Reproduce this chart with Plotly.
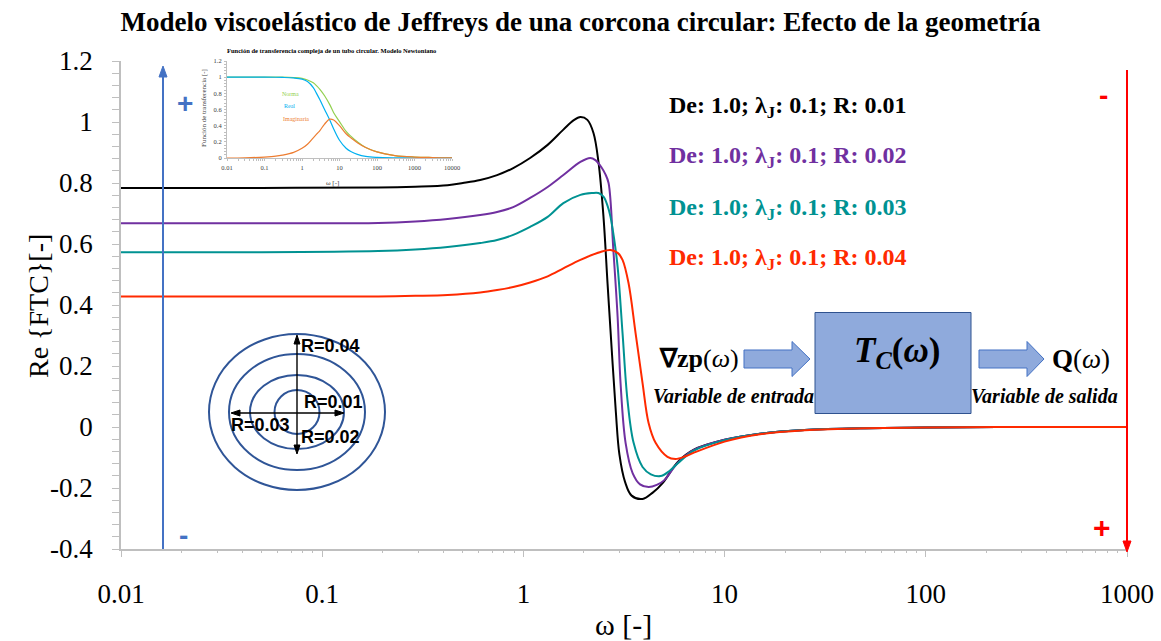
import plotly.graph_objects as go

# ---------------- data ----------------
omega_r01 = [0.01, 0.05, 0.19, 0.29, 0.42, 0.5, 0.61, 0.74, 0.89, 1.08, 1.32, 1.58, 1.78, 1.92, 2.08, 2.23, 2.36, 2.5, 2.62, 2.75, 2.88, 3.0, 3.2, 3.45, 3.91, 4.38, 4.92, 5.84, 7.0, 10, 15, 25, 50, 100, 300, 1000]
re_r01 = [0.784, 0.784, 0.785, 0.788, 0.793, 0.8, 0.81, 0.826, 0.849, 0.882, 0.925, 0.975, 1.006, 1.016, 1.007, 0.964, 0.87, 0.69, 0.47, 0.25, 0.05, -0.09, -0.18, -0.225, -0.236, -0.216, -0.184, -0.115, -0.075, -0.042, -0.022, -0.01, -0.004, -0.002, 0.0, 0.0]

omega_r02 = [0.01, 0.05, 0.19, 0.29, 0.42, 0.61, 0.74, 0.89, 1.08, 1.32, 1.58, 1.92, 2.15, 2.28, 2.45, 2.55, 2.65, 2.8, 2.94, 3.04, 3.22, 3.49, 3.8, 4.19, 4.6, 5.0, 5.84, 7.0, 10, 15, 25, 50, 100, 300, 1000]
re_r02 = [0.668, 0.668, 0.669, 0.674, 0.682, 0.695, 0.705, 0.721, 0.751, 0.787, 0.826, 0.869, 0.882, 0.875, 0.85, 0.83, 0.8, 0.58, 0.36, 0.144, -0.052, -0.151, -0.188, -0.197, -0.19, -0.175, -0.118, -0.076, -0.042, -0.022, -0.01, -0.004, -0.002, 0.0, 0.0]

omega_r03 = [0.01, 0.05, 0.19, 0.29, 0.42, 0.61, 0.74, 0.89, 1.08, 1.32, 1.58, 1.92, 2.2, 2.36, 2.5, 2.62, 2.71, 2.82, 2.94, 3.11, 3.29, 3.53, 3.91, 4.3, 4.8, 5.3, 5.84, 7.0, 10, 15, 25, 50, 100, 300, 1000]
re_r03 = [0.573, 0.573, 0.577, 0.582, 0.59, 0.603, 0.613, 0.63, 0.656, 0.689, 0.734, 0.761, 0.767, 0.767, 0.755, 0.725, 0.689, 0.62, 0.525, 0.308, 0.089, -0.052, -0.131, -0.155, -0.161, -0.145, -0.12, -0.078, -0.043, -0.022, -0.01, -0.004, -0.002, 0.0, 0.0]

omega_r04 = [0.01, 0.05, 0.19, 0.29, 0.42, 0.61, 0.74, 0.89, 1.08, 1.32, 1.58, 1.92, 2.42, 2.71, 2.95, 3.11, 3.33, 3.61, 3.91, 4.19, 4.54, 5.2, 5.7, 6.4, 7.0, 10, 15, 25, 50, 100, 300, 1000]
re_r04 = [0.428, 0.428, 0.428, 0.43, 0.433, 0.441, 0.449, 0.459, 0.474, 0.494, 0.52, 0.548, 0.574, 0.58, 0.57, 0.548, 0.472, 0.308, 0.144, 0.013, -0.052, -0.098, -0.105, -0.096, -0.085, -0.048, -0.024, -0.011, -0.004, -0.002, 0.0, 0.0]

series_labels = ["De: 1.0; λ<sub>J</sub>: 0.1; R: 0.01",
                 "De: 1.0; λ<sub>J</sub>: 0.1; R: 0.02",
                 "De: 1.0; λ<sub>J</sub>: 0.1; R: 0.03",
                 "De: 1.0; λ<sub>J</sub>: 0.1; R: 0.04"]
series_colors = ["#000000", "#7030A0", "#009292", "#FF2A00"]

x_tickvals = [0.01, 0.1, 1, 10, 100, 1000]
x_ticktext = ["0.01", "0.1", "1", "10", "100", "1000"]
y_tickvals = [-0.4, -0.2, 0, 0.2, 0.4, 0.6, 0.8, 1.0, 1.2]
y_ticktext = ["-0.4", "-0.2", "0", "0.2", "0.4", "0.6", "0.8", "1", "1.2"]

# inset (Newtonian tube)
inset_omega = [0.01, 0.03, 0.1, 0.2, 0.3, 0.6, 1, 1.4, 2, 2.5, 3, 4, 5.5, 7, 10, 15, 20, 30, 50, 100, 300, 1000, 3000, 10000]
inset_real = [1.0, 1.0, 1.0, 0.999, 0.997, 0.99, 0.975, 0.945, 0.87, 0.79, 0.72, 0.6, 0.47, 0.36, 0.22, 0.12, 0.08, 0.045, 0.02, 0.008, 0.002, 0.0, 0.0, 0.0]
inset_norm = [1.0, 1.0, 1.0, 1.0, 1.0, 0.995, 0.985, 0.965, 0.93, 0.89, 0.85, 0.77, 0.66, 0.56, 0.45, 0.33, 0.27, 0.2, 0.13, 0.075, 0.03, 0.012, 0.006, 0.003]
inset_imag = [0.0, 0.003, 0.012, 0.022, 0.035, 0.07, 0.12, 0.17, 0.25, 0.3, 0.34, 0.42, 0.48, 0.47, 0.4, 0.3, 0.25, 0.19, 0.13, 0.075, 0.03, 0.012, 0.006, 0.003]
inset_x_tickvals = [0.01, 0.1, 1, 10, 100, 1000, 10000]
inset_x_ticktext = ["0.01", "0.1", "1", "10", "100", "1000", "10000"]
inset_y_tickvals = [0, 0.2, 0.4, 0.6, 0.8, 1.0, 1.2]
inset_y_ticktext = ["0", "0.2", "0.4", "0.6", "0.8", "1", "1.2"]

# ---------------- layout helpers ----------------
W, H = 1161, 641
L, R, T, B = 121, 1127, 61, 549
def px(x):
    return (x - L) / (R - L)
def py(y):
    return (B - y) / (B - T)

SERIF = "Liberation Serif"
SANS = "Liberation Sans"
AX = "#BFBFBF"

minor_x = [m * 10 ** e for e in range(-2, 3) for m in range(2, 10)]
minor_x_inset = [m * 10 ** e for e in range(-2, 4) for m in range(2, 10)]

fig = go.Figure()
for om, re, col in zip([omega_r01, omega_r02, omega_r03, omega_r04],
                       [re_r01, re_r02, re_r03, re_r04], series_colors):
    fig.add_trace(go.Scatter(x=om, y=re, mode="lines",
                             line=dict(color=col, width=2, shape="spline", smoothing=1.0),
                             hoverinfo="skip", showlegend=False))

for yy, col in zip([inset_norm, inset_real, inset_imag], ["#92D050", "#00B0F0", "#ED7D31"]):
    fig.add_trace(go.Scatter(x=inset_omega, y=yy, xaxis="x3", yaxis="y3", mode="lines",
                             line=dict(color=col, width=1.2, shape="spline", smoothing=1.0),
                             hoverinfo="skip", showlegend=False))

annotations = []
def txt(x, y, text, size, color="black", family=SERIF, xanchor="center", angle=0):
    annotations.append(dict(x=px(x), y=py(y), xref="paper", yref="paper", text=text,
                            showarrow=False, xanchor=xanchor, yanchor="middle", textangle=angle,
                            font=dict(family=family, size=size, color=color)))

# axis titles
txt(38, 306, "Re {FTC}[-]", 28, angle=-90)
txt(623, 624, "ω [-]", 30)

# legend-like labels
for lab, col, yy in zip(series_labels, series_colors, [107, 157, 209, 259]):
    txt(667, yy, "<b>" + lab + "</b>", 24, color=col, xanchor="left")

# plus / minus marks
txt(185, 103, "<b>+</b>", 28, "#4472C4", SANS)
txt(183, 535, "<b>-</b>", 28, "#4472C4", SANS)
txt(1103, 95, "<b>-</b>", 28, "#FF0000", SANS)
txt(1102, 527, "<b>+</b>", 30, "#FF0000", SANS)

# circle labels
txt(330, 346, "<b>R=0.04</b>", 18, family=SANS)
txt(333, 402, "<b>R=0.01</b>", 18, family=SANS)
txt(260, 425, "<b>R=0.03</b>", 18, family=SANS)
txt(330, 437, "<b>R=0.02</b>", 18, family=SANS)

# block diagram texts
txt(699, 358, "<b>∇zp</b>(<i>ω</i>)", 26)
txt(733, 396, "<b><i>Variable de entrada</i></b>", 20)
txt(897, 352, "<b><i>T</i><sub><i>C</i></sub>(<i>ω</i>)</b>", 35)
txt(1081, 359, "<b>Q</b>(<i>ω</i>)", 27)
txt(1044, 396, "<b><i>Variable de salida</i></b>", 20)

# inset texts
txt(331, 50, "<b>Función de transferencia compleja de un tubo circular. Modelo Newtoniano</b>", 6.5)
txt(204, 108, "Función de transferencia [-]", 7, "#404040", angle=-90)
txt(290, 94, "Norma", 6, "#92D050")
txt(289, 106, "Real", 6, "#00B0F0")
txt(296, 119, "Imaginaria", 6, "#ED7D31")
txt(332, 183, "ω [-]", 7, "#404040")

shapes = []
def seg(x0, y0, x1, y1, color, width):
    shapes.append(dict(type="line", xref="paper", yref="paper",
                       x0=px(x0), y0=py(y0), x1=px(x1), y1=py(y1),
                       line=dict(color=color, width=width)))

def head(pts, color):
    path = "M " + " L ".join(f"{px(a):.5f},{py(b):.5f}" for a, b in pts) + " Z"
    shapes.append(dict(type="path", xref="paper", yref="paper", path=path,
                       fillcolor=color, line=dict(color=color, width=1)))

# concentric circles
for rx, ry in [(88, 78), (68, 58), (47, 37), (22.5, 22)]:
    cx, cy = 297, 412
    shapes.append(dict(type="circle", xref="paper", yref="paper",
                       x0=px(cx - rx), x1=px(cx + rx), y0=py(cy + ry), y1=py(cy - ry),
                       line=dict(color="#2F5597", width=2), layer="below"))

# direction arrows
seg(163, 549, 163, 74, "#4472C4", 2)
head([(159, 77), (163, 66), (167, 77)], "#4472C4")
seg(1127, 70, 1127, 543, "#FF0000", 2)
head([(1123, 541), (1127, 552), (1131, 541)], "#FF0000")

# radius arrows
seg(297, 341, 297, 448, "black", 1.4)
head([(294, 344), (297, 335), (300, 344)], "black")
head([(294, 445), (297, 454), (300, 445)], "black")
seg(237, 413, 338, 413, "black", 1.4)
head([(240, 410), (231, 413), (240, 416)], "black")
head([(335, 410), (344, 413), (335, 416)], "black")

# block box
shapes.append(dict(type="rect", xref="paper", yref="paper",
                   x0=px(815), x1=px(971), y0=py(413.5), y1=py(312.5),
                   fillcolor="#8FAADC", line=dict(color="#2F528F", width=1)))

def block_arrow(x0, x1, xh, ymid, half_shaft, half_head):
    pts = [(x0, ymid - half_shaft), (xh, ymid - half_shaft), (xh, ymid - half_head),
           (x1, ymid), (xh, ymid + half_head), (xh, ymid + half_shaft), (x0, ymid + half_shaft)]
    path = "M " + " L ".join(f"{px(a):.5f},{py(b):.5f}" for a, b in pts) + " Z"
    shapes.append(dict(type="path", xref="paper", yref="paper", path=path,
                       fillcolor="#8FAADC", line=dict(color="#4472C4", width=1)))

block_arrow(744, 810, 792, 359, 9, 17.5)
block_arrow(979, 1044, 1027, 359, 9, 17.5)

tickfont = dict(family=SERIF, size=27, color="black")
fig.update_layout(
    width=W, height=H,
    margin=dict(l=L, r=W - R, t=T, b=H - B, autoexpand=False),
    paper_bgcolor="white", plot_bgcolor="rgba(0,0,0,0)",
    title=dict(text="<b>Modelo viscoelástico de Jeffreys de una corcona circular: Efecto de la geometría</b>",
               x=(121 + 1040) / 2 / W, xref="container", xanchor="center", y=1 - 22 / H, yref="container", yanchor="middle",
               font=dict(family=SERIF, size=27, color="black")),
    xaxis=dict(type="log", range=[-2, 3], showgrid=False, zeroline=False,
               showline=True, linecolor=AX, linewidth=1.5,
               tickvals=x_tickvals, ticktext=x_ticktext, tickfont=tickfont,
               ticks="outside", ticklen=6, tickwidth=1.2, tickcolor=AX, ticklabelstandoff=14,
               minor=dict(tickvals=minor_x, ticks="outside", ticklen=2, tickcolor=AX, tickwidth=1)),
    xaxis2=dict(type="log", range=[-2, 3], overlaying="x", anchor="y", side="bottom",
                showgrid=False, zeroline=False, showline=False, showticklabels=False,
                tickvals=x_tickvals, ticks="inside", ticklen=10, tickwidth=1.2, tickcolor=AX,
                minor=dict(tickvals=minor_x, ticks="inside", ticklen=9, tickcolor=AX, tickwidth=1)),
    yaxis=dict(range=[-0.4, 1.2], showgrid=False, zeroline=False,
               showline=True, linecolor=AX, linewidth=1.5,
               tickvals=y_tickvals, ticktext=y_ticktext, tickfont=tickfont,
               ticks="outside", ticklen=7, tickwidth=1.2, tickcolor=AX, ticklabelstandoff=14,
               minor=dict(dtick=0.04, tick0=0, ticks="outside", ticklen=7, tickcolor=AX, tickwidth=1)),
    yaxis2=dict(range=[-0.4, 1.2], overlaying="y", anchor="x", side="left",
                showgrid=False, zeroline=False, showline=False, showticklabels=False,
                tickvals=y_tickvals, ticks="inside", ticklen=7, tickwidth=1.2, tickcolor=AX,
                minor=dict(dtick=0.04, tick0=0, ticks="inside", ticklen=7, tickcolor=AX, tickwidth=1)),
    xaxis3=dict(type="log", range=[-2, 4], domain=[px(227), px(452)], anchor="y3",
                showgrid=False, zeroline=False, showline=True, linecolor=AX, linewidth=1,
                tickvals=inset_x_tickvals, ticktext=inset_x_ticktext,
                tickfont=dict(family=SERIF, size=6.5, color="#404040"),
                ticks="outside", ticklen=2, tickcolor=AX, ticklabelstandoff=1,
                minor=dict(tickvals=minor_x_inset, ticks="outside", ticklen=2, tickcolor=AX)),
    yaxis3=dict(range=[0, 1.2], domain=[py(158), 1.0], anchor="x3",
                showgrid=False, zeroline=False, showline=True, linecolor=AX, linewidth=1,
                tickvals=inset_y_tickvals, ticktext=inset_y_ticktext,
                tickfont=dict(family=SERIF, size=6.5, color="#404040"),
                ticks="outside", ticklen=2, tickcolor=AX, ticklabelstandoff=1,
                minor=dict(dtick=0.04, tick0=0, ticks="outside", ticklen=2, tickcolor=AX)),
    annotations=annotations,
    shapes=shapes,
)

fig.write_html("out.html")
